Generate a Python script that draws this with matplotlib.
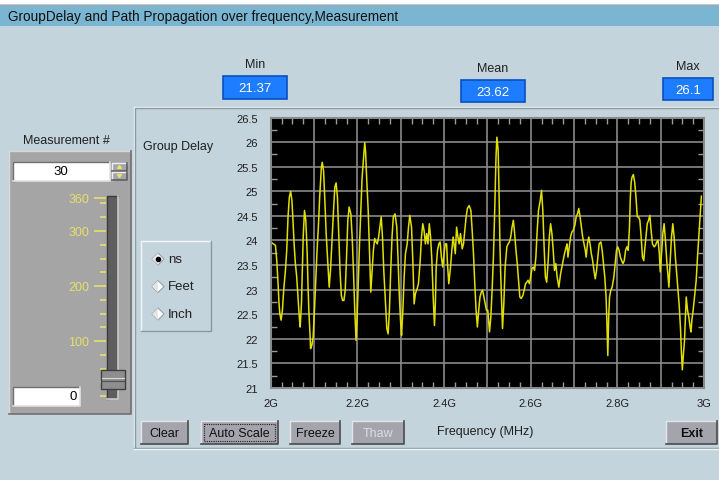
import matplotlib.pyplot as plt
from matplotlib.patches import Rectangle, Polygon
from matplotlib.ticker import MultipleLocator, FuncFormatter

plt.rcParams['font.family'] = ['Liberation Sans', 'DejaVu Sans']

W, H = 719, 481

# group delay trace (GHz, ns)
freq_ghz = [
    2.003, 2.011, 2.014, 2.017, 2.019, 2.021, 2.024, 2.027, 2.030, 2.034,
    2.037, 2.040, 2.043, 2.046, 2.049, 2.051, 2.054, 2.057, 2.060, 2.063,
    2.066, 2.068, 2.071, 2.073, 2.075, 2.078, 2.081, 2.084, 2.086, 2.088,
    2.091, 2.092, 2.095, 2.098, 2.101, 2.104, 2.107, 2.110, 2.113, 2.117,
    2.119, 2.122, 2.125, 2.128, 2.132, 2.135, 2.138, 2.141, 2.145, 2.148,
    2.151, 2.154, 2.157, 2.160, 2.163, 2.166, 2.169, 2.172, 2.175, 2.178,
    2.181, 2.185, 2.188, 2.191, 2.194, 2.197, 2.199, 2.202, 2.205, 2.208,
    2.211, 2.215, 2.217, 2.219, 2.221, 2.225, 2.228, 2.231, 2.234, 2.237,
    2.240, 2.243, 2.246, 2.249, 2.252, 2.255, 2.258, 2.261, 2.265, 2.268,
    2.271, 2.274, 2.277, 2.280, 2.283, 2.287, 2.291, 2.294, 2.297, 2.300,
    2.302, 2.305, 2.308, 2.311, 2.315, 2.318, 2.321, 2.325, 2.328, 2.331,
    2.334, 2.338, 2.341, 2.345, 2.348, 2.351, 2.354, 2.357, 2.360, 2.363,
    2.366, 2.369, 2.372, 2.375, 2.378, 2.380, 2.382, 2.385, 2.388, 2.391,
    2.394, 2.397, 2.400, 2.403, 2.406, 2.408, 2.411, 2.415, 2.418, 2.421,
    2.423, 2.426, 2.429, 2.432, 2.435, 2.438, 2.442, 2.445, 2.448, 2.451,
    2.454, 2.458, 2.462, 2.465, 2.468, 2.471, 2.474, 2.477, 2.480, 2.483,
    2.486, 2.489, 2.492, 2.495, 2.498, 2.501, 2.505, 2.508, 2.511, 2.514,
    2.517, 2.520, 2.522, 2.525, 2.527, 2.529, 2.531, 2.534, 2.535, 2.538,
    2.541, 2.545, 2.548, 2.551, 2.554, 2.557, 2.560, 2.563, 2.566, 2.569,
    2.572, 2.575, 2.578, 2.582, 2.585, 2.588, 2.591, 2.594, 2.597, 2.600,
    2.603, 2.606, 2.609, 2.612, 2.615, 2.618, 2.622, 2.625, 2.628, 2.631,
    2.634, 2.637, 2.640, 2.643, 2.646, 2.649, 2.652, 2.655, 2.658, 2.661,
    2.665, 2.669, 2.672, 2.675, 2.678, 2.682, 2.684, 2.686, 2.689, 2.692,
    2.695, 2.698, 2.702, 2.705, 2.708, 2.711, 2.714, 2.717, 2.720, 2.723,
    2.726, 2.728, 2.731, 2.734, 2.737, 2.740, 2.743, 2.746, 2.749, 2.752,
    2.755, 2.758, 2.762, 2.765, 2.768, 2.771, 2.774, 2.776, 2.778, 2.780,
    2.782, 2.785, 2.788, 2.792, 2.795, 2.798, 2.801, 2.804, 2.807, 2.810,
    2.813, 2.816, 2.819, 2.822, 2.825, 2.828, 2.830, 2.832, 2.834, 2.837,
    2.840, 2.843, 2.846, 2.849, 2.852, 2.855, 2.858, 2.861, 2.863, 2.866,
    2.869, 2.872, 2.875, 2.878, 2.881, 2.885, 2.888, 2.891, 2.894, 2.897,
    2.899, 2.902, 2.905, 2.908, 2.911, 2.914, 2.917, 2.919, 2.922, 2.925,
    2.928, 2.931, 2.934, 2.937, 2.940, 2.943, 2.946, 2.948, 2.950, 2.952,
    2.955, 2.957, 2.959, 2.962, 2.965, 2.968, 2.970, 2.972, 2.975, 2.978,
    2.982, 2.985, 2.988, 2.991, 2.994,
]
delay_ns = [
    23.95, 23.90, 23.59, 23.12, 22.75, 22.51, 22.38, 22.58, 22.99, 23.39,
    23.80, 24.48, 24.88, 25.00, 24.81, 24.48, 23.93, 23.53, 23.26, 22.85,
    22.44, 22.24, 22.71, 23.39, 24.07, 24.61, 24.41, 23.80, 23.12, 22.58,
    22.04, 21.80, 21.87, 22.04, 22.58, 23.19, 23.80, 24.27, 24.88, 25.49,
    25.59, 25.42, 24.81, 24.14, 23.53, 23.05, 23.39, 23.93, 24.61, 25.09,
    25.17, 24.88, 24.14, 23.39, 22.88, 22.78, 22.78, 22.99, 23.66, 24.41,
    24.68, 24.54, 24.07, 23.39, 22.58, 21.97, 22.31, 23.12, 23.93, 24.61,
    25.29, 25.76, 25.99, 25.80, 25.36, 24.61, 23.80, 22.95, 23.39, 23.80,
    24.04, 23.97, 23.93, 24.07, 24.27, 24.48, 24.07, 23.39, 22.71, 22.21,
    22.10, 22.58, 23.39, 24.07, 24.48, 24.54, 24.27, 23.59, 22.85, 22.31,
    22.07, 22.58, 23.26, 23.73, 23.93, 24.27, 24.51, 24.27, 23.59, 22.71,
    22.92, 23.02, 23.12, 23.59, 24.07, 24.34, 24.20, 23.93, 24.14, 23.93,
    24.34, 24.07, 23.59, 22.85, 22.27, 22.71, 23.46, 23.80, 23.93, 23.97,
    23.66, 23.46, 23.73, 23.93, 23.93, 23.53, 23.12, 23.46, 23.80, 24.07,
    23.93, 23.73, 24.27, 24.07, 23.93, 24.14, 23.83, 23.93, 24.20, 24.48,
    24.65, 24.71, 24.61, 24.20, 23.73, 23.12, 22.58, 22.24, 22.58, 22.85,
    22.95, 22.99, 22.85, 22.71, 22.58, 22.58, 22.14, 22.44, 22.99, 23.66,
    24.61, 25.70, 26.10, 25.83, 24.95, 23.93, 23.26, 22.44, 22.21, 22.71,
    23.46, 23.87, 23.93, 23.97, 24.07, 24.27, 24.41, 24.14, 23.80, 23.53,
    23.19, 22.85, 22.82, 22.88, 22.99, 23.12, 23.15, 23.19, 23.12, 23.26,
    23.43, 23.46, 23.39, 23.66, 24.20, 24.61, 24.81, 25.02, 24.61, 23.87,
    23.26, 23.15, 23.53, 24.07, 24.34, 24.14, 23.80, 23.39, 23.53, 23.26,
    23.05, 23.32, 23.46, 23.59, 23.73, 23.87, 23.93, 23.66, 23.87, 24.07,
    24.17, 24.20, 24.31, 24.48, 24.54, 24.65, 24.48, 24.27, 24.07, 23.93,
    23.80, 23.66, 23.93, 24.07, 23.93, 23.73, 23.59, 23.39, 23.22, 23.39,
    23.66, 23.93, 23.97, 23.80, 23.53, 23.26, 22.85, 22.31, 21.66, 22.44,
    22.85, 22.99, 23.05, 23.26, 23.53, 23.80, 23.87, 23.80, 23.66, 23.59,
    23.53, 23.59, 23.80, 23.87, 23.80, 24.27, 24.88, 25.19, 25.29, 25.34,
    25.19, 24.88, 24.48, 24.48, 24.41, 24.07, 23.66, 23.59, 23.80, 24.07,
    24.34, 24.41, 24.51, 24.20, 23.93, 23.87, 23.90, 23.97, 24.00, 23.73,
    23.36, 23.73, 24.14, 24.34, 24.00, 23.59, 23.26, 23.05, 23.59, 24.07,
    24.34, 24.07, 23.66, 23.32, 22.99, 22.65, 22.17, 21.70, 21.37, 21.63,
    21.97, 22.44, 22.85, 22.58, 22.44, 22.24, 22.14, 22.38, 22.58, 22.85,
    23.19, 23.66, 24.07, 24.48, 24.90,
]

stat_names = ["Min", "Mean", "Max"]
stat_values = ["21.37", "23.62", "26.1"]
unit_options = ["ns", "Feet", "Inch"]
button_labels = ["Clear", "Auto Scale", "Freeze", "Thaw", "Exit"]
slider_labels = [100, 200, 300, 360]
measurement_no = 30
slider_low = 0

BG = '#c4d4dc'
BTN = '#a4a4ac'


def px(x0, y0, x1, y1):
    return [x0 / W, 1 - y1 / H, (x1 - x0) / W, (y1 - y0) / H]


def box(ax, x0, y0, x1, y1, face, edge=None, lw=1.0, z=1):
    ax.add_patch(Rectangle((x0, y0), x1 - x0, y1 - y0, facecolor=face,
                           edgecolor=edge if edge else 'none', lw=lw, zorder=z))


def bevel(ax, x0, y0, x1, y1, face, light='#eeeeee', dark='#505050', z=2):
    box(ax, x0, y0, x1, y1, face, z=z)
    ax.plot([x0, x0, x1], [y1, y0, y0], color=light, lw=1, zorder=z + 0.1)
    ax.plot([x0, x1, x1], [y1, y1, y0], color=dark, lw=1.2, zorder=z + 0.1)


fig = plt.figure(figsize=(W / 100, H / 100), dpi=100, facecolor=BG)

gui = fig.add_axes([0, 0, 1, 1], zorder=0)
gui.set_xlim(0, W)
gui.set_ylim(H, 0)
gui.axis('off')

# title bar
box(gui, 0, 0, W, 5, '#ffffff')
gui.plot([0, W], [5.5, 5.5], color='#9aa8b0', lw=1)
box(gui, 0, 7, W, 27, '#7ab6d2')
gui.text(8, 17.5, "GroupDelay and Path Propagation over frequency,Measurement",
         fontsize=9.8, va='center', ha='left', color='#101010')

# Min / Mean / Max indicators
stat_boxes = [(223, 77, 287, 100), (461, 81, 525, 103), (663, 79, 713, 101)]
for name, val, (x0, y0, x1, y1) in zip(stat_names, stat_values, stat_boxes):
    gui.text((x0 + x1) / 2, y0 - 12, name, fontsize=9, ha='center', va='center',
             color='#202020')
    box(gui, x0, y0, x1, y1, '#1e7cff', '#0a4fc0', lw=1.2)
    gui.text((x0 + x1) / 2, (y0 + y1) / 2 + 0.5, val, fontsize=9.5, ha='center',
             va='center', color='white')

# left measurement panel
gui.text(66, 141, "Measurement #", fontsize=9, ha='center', va='center', color='#202020')
bevel(gui, 9, 152, 131, 415, '#a5a5a5', light='#d8d8d8', dark='#707070', z=1)
bevel(gui, 13, 163, 110, 182, '#ffffff', light='#707070', dark='#e0e0e0')
gui.text(61, 172.5, str(measurement_no), fontsize=9.5, ha='center', va='center')
bevel(gui, 112, 164, 127, 172, BTN, dark='#606060')
bevel(gui, 112, 173, 127, 181, BTN, dark='#606060')
gui.add_patch(Polygon([[117.5, 169.5], [121.5, 169.5], [119.5, 166.5]],
                      color='#e8e070', zorder=3))
gui.add_patch(Polygon([[117.5, 175.5], [121.5, 175.5], [119.5, 178.5]],
                      color='#e8e070', zorder=3))
bevel(gui, 13, 388, 80, 407, '#ffffff', light='#707070', dark='#e0e0e0')
gui.text(77, 397.5, str(slider_low), fontsize=9.5, ha='right', va='center')

# slider track
bevel(gui, 107, 197, 118, 400, '#5e5e5e', light='#3a3a3a', dark='#c8c8c8')

sl = fig.add_axes(px(106, 199, 126, 397), zorder=3)
sl.set_facecolor('none')
sl.set_xlim(0, 1)
sl.set_ylim(0, 360)
for s in sl.spines.values():
    s.set_visible(False)
sl.set_xticks([])
sl.set_yticks(slider_labels)
sl.set_yticklabels([str(v) for v in slider_labels])
sl.yaxis.set_minor_locator(MultipleLocator(25))
sl.tick_params(axis='y', which='major', length=9, width=1.2, color='#e6df6a',
               labelcolor='#e6df6a', labelsize=9, pad=3)
sl.tick_params(axis='y', which='minor', length=4.5, width=1.2, color='#e6df6a')
sl.add_patch(Rectangle((-0.25, measurement_no - 17), 1.2, 34, facecolor='#8e8e8e',
                       edgecolor='#404040', lw=1, clip_on=False, zorder=4))
sl.plot([-0.2, 0.9], [measurement_no + 2, measurement_no + 2], color='#d8d8d8',
        lw=0.8, clip_on=False, zorder=5)
sl.plot([-0.2, 0.9], [measurement_no - 2, measurement_no - 2], color='#505050',
        lw=0.8, clip_on=False, zorder=5)

# main panel frame
gui.plot([134, 134, W], [450, 108, 108], color='#f0f4f6', lw=1)
gui.plot([135, 135, W], [449, 109, 109], color='#8a9aa2', lw=1)
gui.plot([134, W], [448.5, 448.5], color='#8a9aa2', lw=1)
gui.plot([134, W], [449.5, 449.5], color='#f0f4f6', lw=1)

gui.text(143, 147, "Group Delay", fontsize=9, ha='left', va='center', color='#202020')

# unit radio group
gui.plot([141, 141, 211], [332, 242, 242], color='#f2f5f7', lw=1)
gui.plot([141, 211, 211], [332, 332, 242], color='#8a9aa2', lw=1)
for i, name in enumerate(unit_options):
    cy = 260 + i * 27.5
    gui.add_patch(Polygon([[152, cy], [158, cy - 6], [164, cy], [158, cy + 6]],
                          facecolor='#ffffff', edgecolor='#9aa0a4', lw=0.8, zorder=3))
    gui.add_patch(Polygon([[152, cy], [158, cy - 6], [158, cy + 6]],
                          facecolor='#e4e6e8', edgecolor='none', zorder=3))
    if i == 0:
        gui.plot(158, cy, 'o', ms=3, color='black', zorder=4)
    gui.text(168, cy, name, fontsize=9.5, ha='left', va='center', color='#202020')

# buttons
btn_boxes = [(141, 422, 188, 445), (201, 422, 278, 445), (290, 422, 340, 445),
             (352, 422, 404, 445), (666, 422, 717, 445)]
for name, (x0, y0, x1, y1) in zip(button_labels, btn_boxes):
    bevel(gui, x0, y0, x1, y1, BTN, light='#e4e4e8', dark='#4a4a4a')
    col = '#dcdce2' if name == "Thaw" else '#101010'
    wt = 'bold' if name == "Exit" else 'normal'
    gui.text((x0 + x1) / 2, (y0 + y1) / 2 + 0.5, name, fontsize=9, ha='center',
             va='center', color=col, fontweight=wt)
    if name == "Auto Scale":
        gui.add_patch(Rectangle((x0 + 3, y0 + 3), x1 - x0 - 6, y1 - y0 - 6,
                                fill=False, ls=(0, (1, 1)), lw=0.8,
                                edgecolor='#202020', zorder=3))
gui.text(485, 432, "Frequency (MHz)", fontsize=9, ha='center', va='center',
         color='#202020')

# the graph itself
ax = fig.add_axes(px(270.7, 118.5, 704, 389), zorder=2)
ax.set_facecolor('black')
ax.plot(freq_ghz, delay_ns, color='#e2e000', lw=1.1)
ax.set_xlim(2.0, 3.0)
ax.set_ylim(21, 26.5)
ax.xaxis.set_major_locator(MultipleLocator(0.1))
ax.xaxis.set_minor_locator(MultipleLocator(0.025))
ax.yaxis.set_major_locator(MultipleLocator(0.5))
ax.yaxis.set_minor_locator(MultipleLocator(0.25))


def fmt_freq(v, pos):
    k = round(v * 10)
    return "%gG" % (k / 10) if k % 2 == 0 else ""


ax.xaxis.set_major_formatter(FuncFormatter(fmt_freq))
ax.yaxis.set_major_formatter(FuncFormatter(lambda v, p: "%g" % v))
ax.grid(True, which='major', color='#8a8a8a', lw=1.2)
ax.set_axisbelow(True)
ax.tick_params(which='both', direction='in', top=True, right=True,
               color='#9a9a9a', labelsize=8, labelcolor='#202020')
ax.tick_params(which='major', length=0)
ax.tick_params(axis='y', which='major', pad=9)
ax.tick_params(axis='x', which='major', pad=7)
ax.tick_params(which='minor', length=4, width=1)
for s in ax.spines.values():
    s.set_color('#8a8a8a')
    s.set_linewidth(1.5)

fig.savefig('out.png', dpi=100, facecolor=BG)
